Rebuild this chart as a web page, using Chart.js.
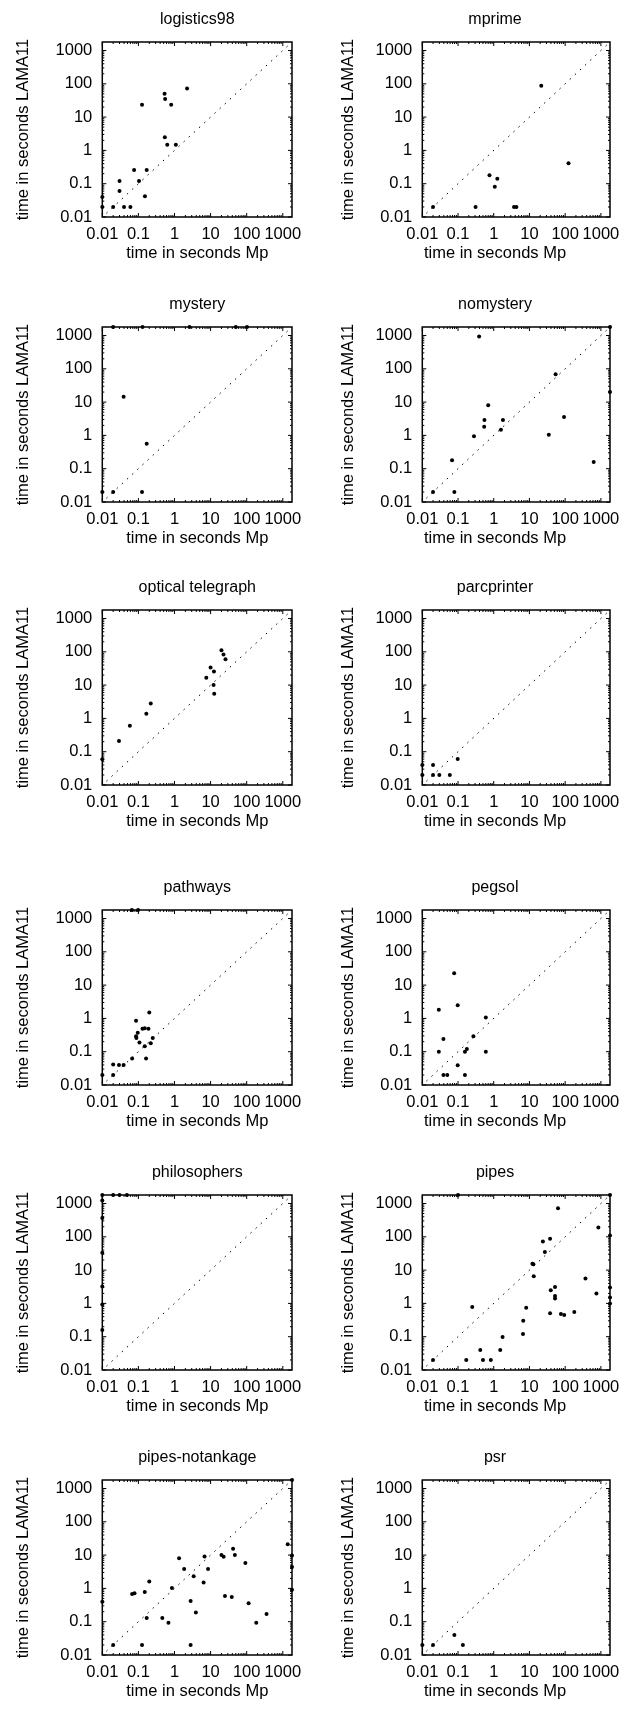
<!DOCTYPE html>
<html><head><meta charset="utf-8">
<script src="https://cdn.jsdelivr.net/npm/chart.js@4.4.0/dist/chart.umd.min.js"></script>
<style>
html,body{margin:0;padding:0;background:#fff;}
#wrap{position:relative;width:628px;height:1710px;overflow:hidden;background:#fff;}
canvas{position:absolute;}
</style></head><body><div id="wrap"></div>
<script>
const tickValues = [0.01, 0.1, 1, 10, 100, 1000];
const tickLabels = ['0.01', '0.1', '1', '10', '100', '1000'];
const minorMultipliers = [2, 3, 4, 5, 6, 7, 8, 9];
const axisMin = 0.01, axisMax = 1800;
const diagX = [0.013, 1800];
const diagY = [0.013, 1800];
const xTitle = 'time in seconds Mp';
const yTitle = 'time in seconds LAMA11';
const panelTitles = ['logistics98', 'mprime', 'mystery', 'nomystery', 'optical telegraph', 'parcprinter',
  'pathways', 'pegsol', 'philosophers', 'pipes', 'pipes-notankage', 'psr'];

const logistics98X = [0.01, 0.01, 0.02, 0.03, 0.03, 0.04, 0.06, 0.076, 0.104, 0.126, 0.152, 0.17, 0.53, 0.55, 0.81, 0.54, 0.63, 1.09, 2.23];
const logistics98Y = [0.04, 0.02, 0.02, 0.12, 0.06, 0.02, 0.02, 0.26, 0.12, 23.4, 0.042, 0.26, 50, 35, 23.4, 2.5, 1.48, 1.48, 72];
const mprimeX = [0.02, 0.31, 0.76, 1.26, 1.07, 3.7, 4.3, 21.4, 124];
const mprimeY = [0.02, 0.02, 0.18, 0.14, 0.081, 0.02, 0.02, 87, 0.41];
const mysteryX = [0.02, 0.13, 2.6, 50, 102, 0.039, 0.17, 0.01, 0.02, 0.126];
const mysteryY = [1800, 1800, 1800, 1800, 1800, 14.5, 0.56, 0.02, 0.02, 0.02];
const nomysteryX = [0.02, 0.068, 0.079, 0.28, 0.39, 0.54, 0.55, 0.70, 1.59, 1.81, 34.8, 54, 93, 630, 1800, 1800];
const nomysteryY = [0.02, 0.18, 0.02, 0.95, 930, 1.82, 2.9, 8.1, 1.48, 2.9, 1.05, 69, 3.6, 0.16, 20, 1800];
const opticalX = [0.01, 0.029, 0.058, 0.166, 0.22, 7.6, 10, 12.4, 12.1, 12.6, 20, 22.8, 25.9];
const opticalY = [0.059, 0.21, 0.60, 1.38, 2.8, 16.6, 34, 25.7, 10, 5.5, 112, 83, 60];
const parcprinterX = [0.01, 0.01, 0.02, 0.02, 0.03, 0.059, 0.098];
const parcprinterY = [0.04, 0.02, 0.04, 0.02, 0.02, 0.02, 0.06];
const pathwaysX = [0.066, 0.098, 0.01, 0.02, 0.02, 0.029, 0.039, 0.067, 0.086, 0.086, 0.088, 0.096, 0.107, 0.13, 0.15, 0.15, 0.163, 0.19, 0.2, 0.22, 0.25];
const pathwaysY = [1800, 1800, 0.02, 0.02, 0.041, 0.04, 0.04, 0.062, 0.85, 0.29, 0.26, 0.37, 0.19, 0.49, 0.51, 0.145, 0.062, 0.49, 1.5, 0.18, 0.26];
const pegsolX = [0.029, 0.029, 0.039, 0.039, 0.05, 0.078, 0.098, 0.098, 0.156, 0.177, 0.156, 0.27, 0.60, 0.60];
const pegsolY = [1.82, 0.1, 0.24, 0.02, 0.02, 22.6, 2.5, 0.039, 0.1, 0.12, 0.02, 0.29, 1.07, 0.1];
const philosophersX = [0.01, 0.02, 0.03, 0.048, 0.01, 0.01, 0.01, 0.01, 0.01, 0.01];
const philosophersY = [1800, 1800, 1800, 1800, 1230, 370, 33, 3.2, 0.93, 0.16];
const pipesX = [0.02, 0.1, 0.17, 0.25, 0.42, 0.50, 0.83, 1.52, 1.77, 6.6, 6.7, 8.1, 12.1, 12.9, 13.2, 23.8, 27, 37.8, 39.5, 37.8, 52, 52, 52, 63, 76, 94,
  180, 370, 850, 750, 1800, 1800, 1800, 1800, 1800];
const pipesY = [0.02, 1800, 0.02, 0.78, 0.04, 0.02, 0.02, 0.04, 0.098, 0.12, 0.30, 0.74, 15.5, 15, 6.5, 72, 35, 87, 2.5, 0.51, 3.1, 1.66, 1.41, 720, 0.48, 0.45,
  0.55, 5.6, 190, 2, 1800, 110, 3, 1.5, 1];
const notankageX = [0.01, 0.02, 0.067, 0.078, 0.126, 0.15, 0.17, 0.2, 0.46, 0.68, 0.85, 1.34, 1.85, 2.8, 2.8, 3.4, 3.9, 6.4, 6.8, 8.5,
  20, 23, 25, 38.6, 42, 47, 92, 113, 184, 355, 1370, 1800, 1800, 1800, 1800];
const notankageY = [0.4, 0.02, 0.68, 0.72, 0.02, 0.78, 0.13, 1.6, 0.13, 0.093, 1.02, 8.1, 3.8, 0.42, 0.02, 2.3, 0.19, 1.5, 9.1, 3.8,
  10, 8.9, 0.59, 0.55, 15.5, 10, 5.8, 0.36, 0.093, 0.17, 21, 9.8, 4.4, 0.91, 1800];
const psrX = [0.01, 0.02, 0.079, 0.137];
const psrY = [0.02, 0.02, 0.04, 0.02];

const seriesX = [logistics98X, mprimeX, mysteryX, nomysteryX, opticalX, parcprinterX, pathwaysX, pegsolX, philosophersX, pipesX, notankageX, psrX];
const seriesY = [logistics98Y, mprimeY, mysteryY, nomysteryY, opticalY, parcprinterY, pathwaysY, pegsolY, philosophersY, pipesY, notankageY, psrY];

// layout (pixels)
const rowPlotTop = [41.7, 327, 610.3, 910, 1195, 1480];
const plotH = 175;
const canvasTopPad = 40, canvasBottom = 50;
const colCanvasLeft = [0, 314];
const colPlotLeft = [102.3, 108.3];
const colRightPad = [22, 15.7];
const colYTitleX = [23, 34];
const colTextCenter = [197.3, 181];
const titleAbove = 22.5;
const FONT = '"Liberation Sans", Arial, sans-serif';

const framePlugin = {
  id: 'frameTicks',
  beforeDatasetsDraw(chart) {
    const {ctx, chartArea: a, scales: {x, y}} = chart;
    ctx.save();
    ctx.strokeStyle = '#000';
    ctx.lineWidth = 1;
    const vals = [];
    tickValues.forEach(d => {
      vals.push([d, 4]);
      minorMultipliers.forEach(m => { if (d * m <= axisMax) vals.push([d * m, 2]); });
    });
    ctx.beginPath();
    vals.forEach(([v, len]) => {
      const px = x.getPixelForValue(v);
      ctx.moveTo(px, a.bottom); ctx.lineTo(px, a.bottom - len);
      ctx.moveTo(px, a.top); ctx.lineTo(px, a.top + len);
      const py = y.getPixelForValue(v);
      ctx.moveTo(a.left, py); ctx.lineTo(a.left + len, py);
      ctx.moveTo(a.right, py); ctx.lineTo(a.right - len, py);
    });
    ctx.stroke();
    ctx.lineWidth = 1.5;
    ctx.strokeRect(a.left, a.top, a.right - a.left, a.bottom - a.top);
    ctx.restore();
  },
  afterDraw(chart) {
    const {ctx, chartArea: a} = chart;
    const o = chart.options.plugins.frameTicks;
    ctx.save();
    ctx.fillStyle = '#000';
    ctx.textAlign = 'center';
    ctx.textBaseline = 'middle';
    ctx.font = '16px ' + FONT;
    ctx.fillText(o.title, o.textX, a.top - titleAbove);
    ctx.font = '16.5px ' + FONT;
    ctx.fillText(xTitle, o.textX, a.bottom + 36);
    ctx.translate(o.yTitleX, (a.top + a.bottom) / 2);
    ctx.rotate(-Math.PI / 2);
    ctx.fillText(yTitle, 0, 0);
    ctx.restore();
  }
};

const wrap = document.getElementById('wrap');
function makePanel(i) {
  const col = i % 2, row = Math.floor(i / 2);
  const W = 314, H = canvasTopPad + plotH + canvasBottom;
  const cv = document.createElement('canvas');
  cv.width = W; cv.height = H;
  cv.style.left = colCanvasLeft[col] + 'px';
  cv.style.top = (rowPlotTop[row] - canvasTopPad) + 'px';
  cv.style.width = W + 'px'; cv.style.height = H + 'px';
  wrap.appendChild(cv);
  const xs = seriesX[i], ys = seriesY[i];
  const axisCommon = {
    type: 'logarithmic', min: axisMin, max: axisMax,
    afterBuildTicks: s => { s.ticks = tickValues.map(v => ({value: v})); },
    grid: {display: false, drawTicks: false},
    border: {display: false},
  };
  new Chart(cv, {
    type: 'scatter',
    data: {datasets: [
      {data: diagX.map((v, k) => ({x: v, y: diagY[k]})), showLine: true, borderColor: '#000', borderWidth: 1,
        borderDash: [1.5, 5.5], pointRadius: 0, fill: false},
      {data: xs.map((v, k) => ({x: v, y: ys[k]})), pointRadius: 2, pointHoverRadius: 2,
        backgroundColor: '#000', borderColor: '#000', borderWidth: 0, clip: false}
    ]},
    options: {
      responsive: false, animation: false, devicePixelRatio: 1,
      layout: {padding: {top: canvasTopPad, left: 0, right: colRightPad[col], bottom: 0}},
      plugins: {legend: {display: false}, tooltip: {enabled: false},
        frameTicks: {title: panelTitles[i], yTitleX: colYTitleX[col], textX: colTextCenter[col]}},
      scales: {
        x: Object.assign({}, axisCommon, {
          afterFit: s => { s.height = canvasBottom; },
          ticks: {autoSkip: false, maxRotation: 0, minRotation: 0, padding: 8, color: '#000',
            font: {size: 16.5, family: FONT},
            callback: v => tickLabels[tickValues.indexOf(v)]}
        }),
        y: Object.assign({}, axisCommon, {
          afterFit: s => { s.width = colPlotLeft[col]; },
          ticks: {autoSkip: false, padding: 10, color: '#000',
            font: {size: 16.5, family: FONT},
            callback: v => tickLabels[tickValues.indexOf(v)]}
        })
      }
    },
    plugins: [framePlugin]
  });
}
for (let i = 0; i < 12; i++) makePanel(i);
</script></body></html>
